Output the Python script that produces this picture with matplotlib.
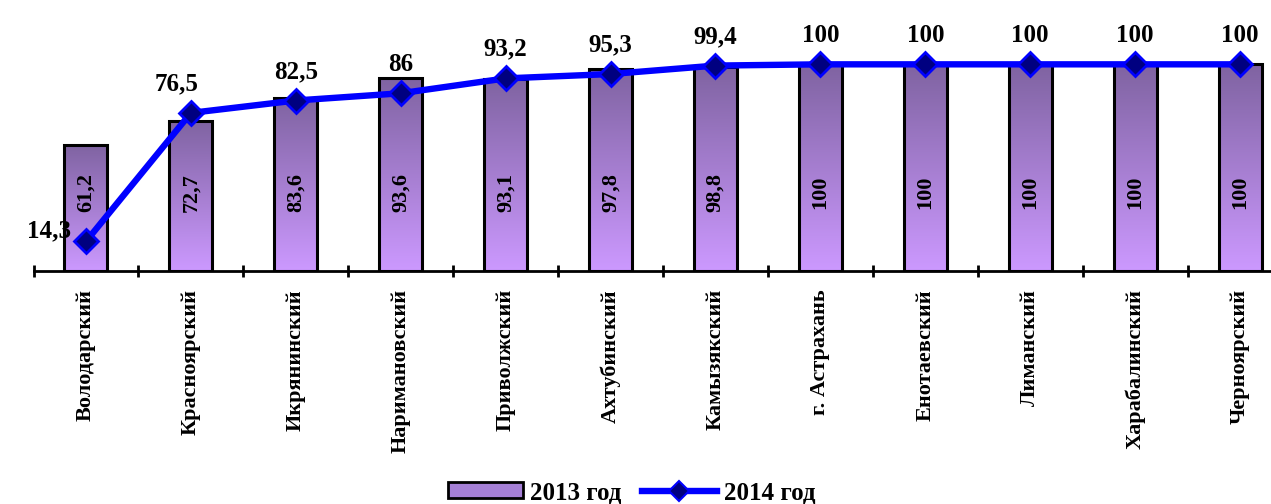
import matplotlib
matplotlib.use("Agg")
import matplotlib.pyplot as plt
import numpy as np
from matplotlib.colors import LinearSegmentedColormap
from matplotlib.patches import Patch
from matplotlib.lines import Line2D

districts = ["Володарский", "Красноярский", "Икрянинский", "Наримановский",
             "Приволжский", "Ахтубинский", "Камызякский", "г. Астрахань",
             "Енотаевский", "Лиманский", "Харабалинский", "Черноярский"]
y2013 = [61.2, 72.7, 83.6, 93.6, 93.1, 97.8, 98.8, 100, 100, 100, 100, 100]
y2014 = [14.3, 76.5, 82.5, 86, 93.2, 95.3, 99.4, 100, 100, 100, 100, 100]

def fmt(v):
    s = ("%.1f" % v).rstrip("0").rstrip(".")
    return s.replace(".", ",")

plt.rcParams['font.family'] = ['Liberation Serif', 'DejaVu Serif']
plt.rcParams['font.weight'] = 'bold'

fig = plt.figure(figsize=(12.71, 5.04), dpi=100)
ax = fig.add_axes([33.5 / 1271, 233 / 504, 1259 / 1271, 248 / 504])

x = np.arange(len(districts))
bar_top = "#7f63a1"
bar_bottom = "#cc99ff"
cmap = LinearSegmentedColormap.from_list("grad", [bar_bottom, bar_top])
grad = np.linspace(0, 1, 256).reshape(-1, 1)

bars = ax.bar(x, y2013, width=0.41, color="none", edgecolor="black",
              linewidth=2.2, zorder=3)
for b in bars:
    x0, w, h = b.get_x(), b.get_width(), b.get_height()
    im = ax.imshow(grad, cmap=cmap, origin="lower", aspect="auto",
                   extent=[x0, x0 + w, 0, h], zorder=2)
    im.set_clip_path(b)

ax.plot(x, y2014, color="#0000ff", lw=4.6, marker="D", markersize=12,
        markerfacecolor="#000080", markeredgecolor="#0000ff",
        markeredgewidth=2, zorder=4)

for i, v in enumerate(y2013):
    ax.text(x[i], 38, fmt(v), rotation=90, ha="center", va="center",
            fontsize=16, fontweight="bold", zorder=5)

for i, v in enumerate(y2014):
    if i == 0:
        ax.annotate(fmt(v), (x[i], v), xytext=(-11, 8), textcoords="offset points",
                    ha="right", va="center", fontsize=18, fontweight="bold")
    else:
        dx = -10 if i == 1 else 0
        ax.annotate(fmt(v), (x[i], v), xytext=(dx, 21), textcoords="offset points",
                    ha="center", va="center", fontsize=18, fontweight="bold")

ax.set_xlim(-0.5, len(districts) - 0.5)
ax.set_ylim(0, 120)
for s in ["left", "right", "top"]:
    ax.spines[s].set_visible(False)
ax.spines["bottom"].set_linewidth(2)
ax.set_yticks([])
ax.set_xticks(x)
ax.set_xticklabels(districts, rotation=90, fontsize=16, fontweight="bold")
ax.tick_params(axis="x", which="major", length=0, pad=13)
ax.set_xticks(np.arange(-0.5, len(districts), 1.0), minor=True)
ax.tick_params(axis="x", which="minor", length=9, width=2, direction="inout")

handles = [Patch(facecolor="#a57fd6", edgecolor="black", linewidth=2),
           Line2D([], [], color="#0000ff", lw=4.6, marker="D", markersize=10,
                  markerfacecolor="#000080", markeredgecolor="#0000ff",
                  markeredgewidth=1.5)]
fig.legend(handles, ["2013 год", "2014 год"], loc="lower center",
           bbox_to_anchor=(0.497, -0.045), ncol=2, frameon=False,
           prop={"size": 18, "weight": "bold"}, handlelength=3.0,
           handleheight=0.6, columnspacing=0.8, handletextpad=0.3)

fig.savefig("out.png", dpi=100)
